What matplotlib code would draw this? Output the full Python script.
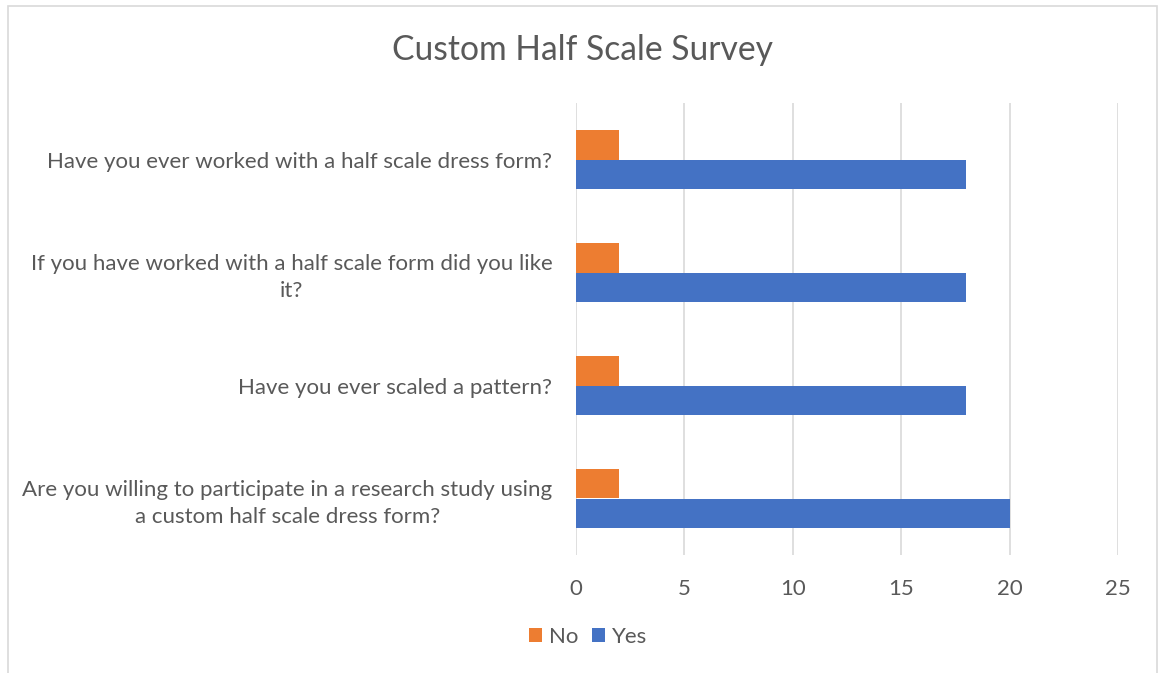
import matplotlib
matplotlib.use("Agg")
import matplotlib.pyplot as plt
from matplotlib.patches import Rectangle
import numpy as np

categories = [
    "Have you ever worked with a half scale dress form?",
    "If you have worked with a half scale form did you like\nit?",
    "Have you ever scaled a pattern?",
    "Are you willing to participate in a research study using\na custom half scale dress form?",
]
no_vals = [2, 2, 2, 2]
yes_vals = [18, 18, 18, 20]
xticks = [0, 5, 10, 15, 20, 25]

plt.rcParams['font.family'] = ['Lato', 'DejaVu Sans']
TXT = '#595959'
W, H = 1160, 673
fig = plt.figure(figsize=(W / 100, H / 100), dpi=100)
fig.patches.append(Rectangle((8 / W, -0.01), (1157 - 8) / W, (H - 6) / H + 0.01, transform=fig.transFigure,
                             fill=False, edgecolor='#d9d9d9', linewidth=1.2))

ax = fig.add_axes([576 / W, 1 - 555 / H, (1118 - 576) / W, (555 - 103) / H])
y = np.arange(len(categories))
bh = 0.262
ax.barh(y - bh / 2, no_vals, height=bh, color='#ED7D31', label='No', zorder=3)
ax.barh(y + bh / 2, yes_vals, height=bh, color='#4472C4', label='Yes', zorder=3)
ax.set_ylim(len(categories) - 0.5, -0.5)
ax.set_xlim(0, 25)
ax.set_xticks(xticks)
ax.set_yticks(y)
ax.set_yticklabels(categories, multialignment='center', linespacing=1.4)
ax.tick_params(axis='both', length=0, labelsize=16, colors=TXT)
ax.tick_params(axis='x', pad=17)
ax.tick_params(axis='y', pad=17)
ax.grid(axis='x', color='#d9d9d9', linewidth=1.2, zorder=0)
for s in ax.spines.values():
    s.set_visible(False)

fig.text(583 / W, 1 - 50 / H, 'Custom Half Scale Survey', ha='center', va='center',
         fontsize=24.2, color=TXT)

handles, labels = ax.get_legend_handles_labels()
fig.legend(handles, labels, loc='center', bbox_to_anchor=(588 / W, 1 - 637 / H), ncol=2,
           frameon=False, fontsize=16, labelcolor=TXT, handlelength=0.6, handleheight=0.6,
           handletextpad=0.3, columnspacing=0.6)

fig.savefig('out.png', dpi=100)
